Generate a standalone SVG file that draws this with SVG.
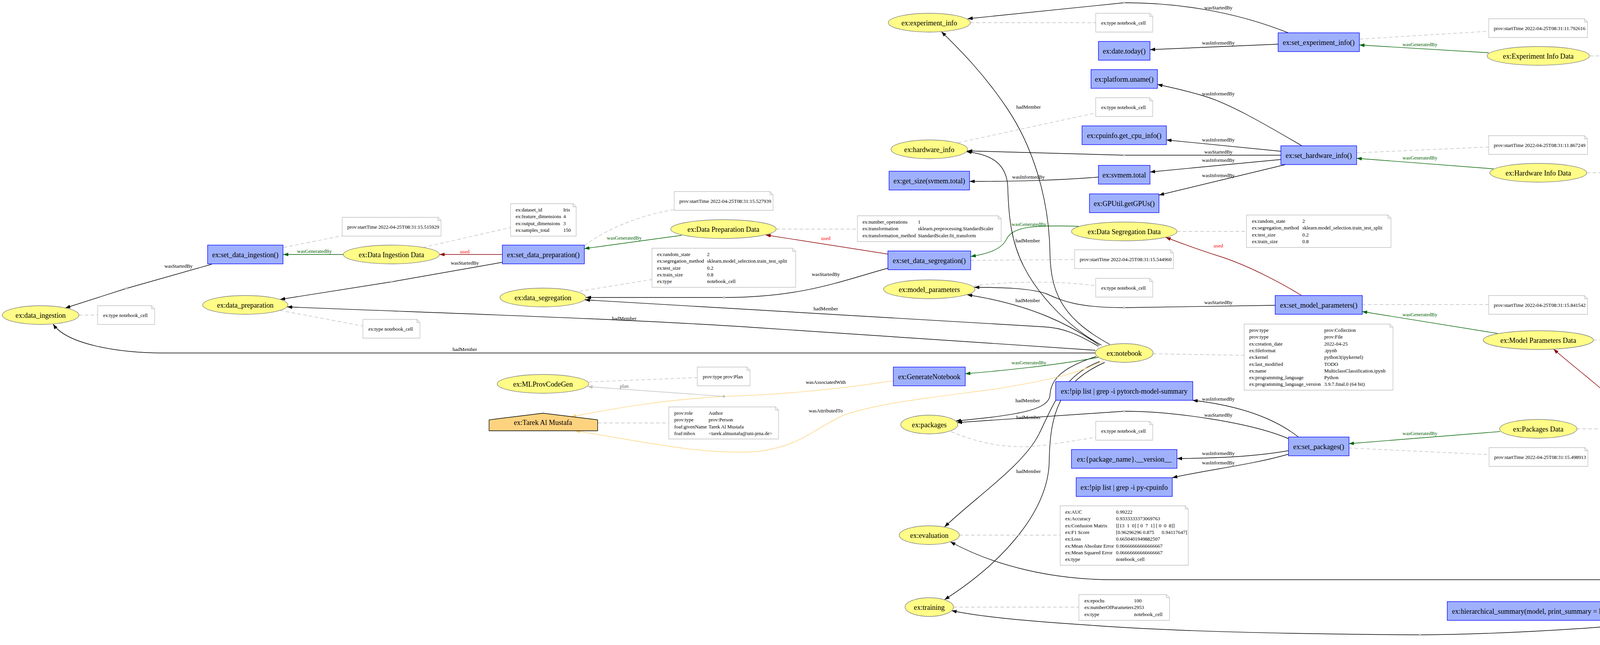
<svg xmlns="http://www.w3.org/2000/svg" width="6183" height="1650" viewBox="0 0 6183 1650">
<style>
text{font-family:"Liberation Serif","Times New Roman",serif;fill:#000}
.n{font-size:18.2px;text-anchor:middle}
.t{font-size:12.9px}
.l{font-size:13px;text-anchor:middle}
.lg{fill:#006400}.lr{fill:#ff0000}.lp{fill:#696969}
.ent{fill:#FFFC87;stroke:#808080;stroke-width:1.33}
.act{fill:#9FB1FC;stroke:#0000FF;stroke-width:1.33}
.agt{fill:#FED37F;stroke:#000;stroke-width:1.33}
.note{fill:#fff;stroke:#c0c0c0;stroke-width:1.33}
.fold{fill:none;stroke:#c0c0c0;stroke-width:1.33}
.e{fill:none;stroke:#000;stroke-width:1.4}
.eg{stroke:#006400}.eu{stroke:#8B0000}.eo{stroke:#FED37F}.ep{stroke:#c0c0c0}
.ad{fill:none;stroke:#c0c0c0;stroke-width:1.4;stroke-dasharray:9 6}
.dot{fill:#c0c0c0}
</style>
<defs>
<marker id="ab" markerUnits="userSpaceOnUse" markerWidth="14" markerHeight="10" refX="13" refY="5" orient="auto"><path d="M0,0.4 L13,5 L0,9.6 z" fill="#000"/></marker>
<marker id="ag" markerUnits="userSpaceOnUse" markerWidth="14" markerHeight="10" refX="13" refY="5" orient="auto"><path d="M0,0.4 L13,5 L0,9.6 z" fill="#006400"/></marker>
<marker id="ar" markerUnits="userSpaceOnUse" markerWidth="14" markerHeight="10" refX="13" refY="5" orient="auto"><path d="M0,0.4 L13,5 L0,9.6 z" fill="#8B0000"/></marker>
<marker id="ao" markerUnits="userSpaceOnUse" markerWidth="14" markerHeight="10" refX="13" refY="5" orient="auto"><path d="M0,0.4 L13,5 L0,9.6 z" fill="#FED37F"/></marker>
<marker id="ap" markerUnits="userSpaceOnUse" markerWidth="14" markerHeight="10" refX="13" refY="5" orient="auto"><path d="M0,0.4 L13,5 L0,9.6 z" fill="#c0c0c0"/></marker>
</defs>
<rect width="6183" height="1650" fill="#fff"/>
<g id="connectors">
<path class="e eg" d="M879,651 L725,651" marker-end="url(#ag)"/>
<text class="l lg" x="805" y="647">wasGeneratedBy</text>
<path class="e eu" d="M1286,651 L1125,651" marker-end="url(#ar)"/>
<text class="l lr" x="1190" y="648">used</text>
<path class="e" d="M542,676 L323,738 L167,788" marker-end="url(#ab)"/>
<text class="l" x="457" y="685">wasStartedBy</text>
<path class="ad" d="M726,633 L876,603"/>
<path class="ad" d="M202,806 L250,806"/>
<path class="ad" d="M1083,633 L1307,582"/>
<path class="e" d="M1286,671 L1002,721 L717,766" marker-end="url(#ab)"/>
<text class="l" x="1190" y="677">wasStartedBy</text>
<path class="e eg" d="M1745,602 L1496,636" marker-end="url(#ag)"/>
<text class="l lg" x="1598" y="613">wasGeneratedBy</text>
<path class="ad" d="M1496,628 Q1590,560 1726,536"/>
<path class="ad" d="M717,794 L929,834"/>
<path class="ad" d="M1987,586 L2195,586"/>
<path class="e eu" d="M2273,650 L1960,601" marker-end="url(#ar)"/>
<text class="l lr" x="2114" y="614">used</text>
<path class="e" d="M2273,686 C2150,720 2050,761 1853,761 L1500,761" marker-end="url(#ab)"/>
<text class="l" x="2114" y="706">wasStartedBy</text>
<path class="ad" d="M1484,745 L1669,715"/>
<path class="e eg" d="M2762,579 C2640,575 2590,580 2575,615 C2560,640 2525,650 2485,656" marker-end="url(#ag)"/>
<text class="l lg" x="2634" y="578">wasGeneratedBy</text>
<path class="ad" d="M2485,666 L2751,664"/>
<path class="ad" d="M3013,592 L3191,592"/>
<path class="e eu" d="M3332,756 C3290,730 3200,680 3120,655 C3060,636 3010,617 2984,607" marker-end="url(#ar)"/>
<text class="l lr" x="3119" y="633">used</text>
<path class="e" d="M3298,84 C3150,25 3000,7 2878,7 L2477,48" marker-end="url(#ab)"/>
<text class="l" x="3119" y="24">wasStartedBy</text>
<path class="e" d="M3272,113 L2944,127" marker-end="url(#ab)"/>
<text class="l" x="3119" y="114">wasInformedBy</text>
<path class="ad" d="M2484,58 L2805,58"/>
<path class="ad" d="M3481,100 L3811,80"/>
<path class="e eg" d="M3811,135 L3480,115" marker-end="url(#ag)"/>
<text class="l lg" x="3635" y="118">wasGeneratedBy</text>
<path class="ad" d="M4070,143 L4385,143"/>
<path class="e" d="M3333,373 C3250,325 3150,265 3080,245 C3030,230 2990,222 2963,216" marker-end="url(#ab)"/>
<text class="l" x="3119" y="244">wasInformedBy</text>
<path class="e" d="M3279,387 L2986,358" marker-end="url(#ab)"/>
<text class="l" x="3119" y="362">wasInformedBy</text>
<path class="e" d="M3279,397 L2878,397 L2476,386" marker-end="url(#ab)"/>
<text class="l" x="3119" y="393">wasStartedBy</text>
<path class="e" d="M3279,408 L2944,440" marker-end="url(#ab)"/>
<text class="l" x="3119" y="414">wasInformedBy</text>
<path class="e" d="M3291,421 L2967,499" marker-end="url(#ab)"/>
<text class="l" x="3119" y="453">wasInformedBy</text>
<path class="e" d="M2812,453 C2700,462 2600,464 2482,464" marker-end="url(#ab)"/>
<text class="l" x="2633" y="457">wasInformedBy</text>
<path class="ad" d="M2453,365 L2805,289"/>
<path class="ad" d="M3473,391 L3811,376"/>
<path class="e eg" d="M3824,432 L3473,405" marker-end="url(#ag)"/>
<text class="l lg" x="3635" y="408">wasGeneratedBy</text>
<path class="ad" d="M4062,442 L4305,442"/>
<path class="e" d="M3264,781 L2878,787 C2760,787 2720,770 2680,752 C2640,737 2560,735 2494,735" marker-end="url(#ab)"/>
<text class="l" x="3119" y="778">wasStartedBy</text>
<path class="ad" d="M2493,731 C2560,722 2700,716 2805,731"/>
<path class="ad" d="M3487,779 L3811,779"/>
<path class="e eg" d="M3834,853 L3487,797" marker-end="url(#ag)"/>
<text class="l lg" x="3635" y="809">wasGeneratedBy</text>
<path class="ad" d="M4079,870 L4320,870"/>
<path class="e" d="M2841,881 C2730,820 2690,760 2688,650 C2686,500 2640,370 2580,280 C2520,190 2460,130 2410,81" marker-end="url(#ab)"/>
<text class="l" x="2633" y="278">hadMember</text>
<path class="e" d="M2820,883 C2740,840 2660,760 2620,680 C2590,620 2582,560 2580,480 C2578,420 2540,395 2474,388" marker-end="url(#ab)"/>
<text class="l" x="2631" y="620">hadMember</text>
<path class="e" d="M2815,884 C2740,830 2640,780 2476,754" marker-end="url(#ab)"/>
<text class="l" x="2631" y="773">hadMember</text>
<path class="e" d="M2812,886 C2760,855 2720,838 2671,836 L1497,767" marker-end="url(#ab)"/>
<text class="l" x="2114" y="794">hadMember</text>
<path class="e" d="M2804,896 L1950,839 C1600,815 1100,800 735,785" marker-end="url(#ab)"/>
<text class="l" x="1598" y="819">hadMember</text>
<path class="e" d="M2804,903 L420,903 C300,903 170,880 136,829" marker-end="url(#ab)"/>
<text class="l" x="1190" y="898">hadMember</text>
<path class="e" d="M2806,912 C2720,940 2690,970 2688,1010 C2686,1050 2600,1062 2447,1077" marker-end="url(#ab)"/>
<text class="l" x="2631" y="1029">hadMember</text>
<path class="e" d="M2815,925 C2720,960 2695,1040 2660,1110 C2620,1190 2500,1270 2418,1348" marker-end="url(#ab)"/>
<text class="l" x="2633" y="1072">hadMember</text>
<path class="e" d="M2828,927 C2710,980 2688,1060 2686,1180 C2684,1300 2580,1430 2418,1534" marker-end="url(#ab)"/>
<text class="l" x="2633" y="1210">hadMember</text>
<path class="e eg" d="M2812,914 C2700,935 2550,950 2471,956" marker-end="url(#ag)"/>
<text class="l lg" x="2634" y="932">wasGeneratedBy</text>
<path class="e eo" d="M2287,974 C2150,995 2000,1010 1853,1014"/>
<text class="l" x="2114" y="982">wasAssociatedWith</text>
<path class="e eo" d="M1853,1014 C1700,1023 1600,1040 1462,1066" marker-end="url(#ao)"/>
<path class="e ep" d="M1853,1014 L1504,989" marker-end="url(#ap)"/>
<text class="l lp" x="1598" y="992">plan</text>
<path class="e eo" d="M2825,923 C2760,955 2700,970 2550,995 C2400,1015 2250,1030 2157,1063 C2080,1100 2050,1140 1940,1155 C1800,1165 1650,1130 1472,1102" marker-end="url(#ao)"/>
<text class="l" x="2114" y="1055">wasAttributedTo</text>
<path class="ad" d="M2952,905 L3185,909"/>
<path class="ad" d="M1507,977 L1785,966"/>
<path class="ad" d="M1530,1082 L1712,1082"/>
<path class="e" d="M3298,1122 C3200,1080 3000,1052 2878,1052 L2450,1081" marker-end="url(#ab)"/>
<text class="l" x="3119" y="1066">wasStartedBy</text>
<path class="e" d="M3324,1118 C3250,1060 3150,1035 3053,1024" marker-end="url(#ab)"/>
<text class="l" x="3119" y="1025">wasInformedBy</text>
<path class="e" d="M3298,1153 C3200,1170 3100,1172 3013,1173" marker-end="url(#ab)"/>
<text class="l" x="3119" y="1164">wasInformedBy</text>
<path class="e" d="M3298,1162 C3200,1190 3100,1200 3001,1222" marker-end="url(#ab)"/>
<text class="l" x="3119" y="1188">wasInformedBy</text>
<path class="ad" d="M2435,1104 C2520,1140 2600,1150 2680,1138 C2740,1130 2780,1122 2805,1119"/>
<path class="ad" d="M3453,1146 L3812,1163"/>
<path class="e eg" d="M3840,1104 L3453,1135" marker-end="url(#ag)"/>
<text class="l lg" x="3635" y="1113">wasGeneratedBy</text>
<path class="ad" d="M4036,1097 L4332,1097"/>
<path class="e" d="M4439,1572 C4200,1600 3900,1622 3635,1624 C3300,1622 3000,1615 2800,1600 C2650,1590 2520,1580 2436,1562" marker-end="url(#ab)"/>
<text class="l" x="4237" y="1585">wasStartedBy</text>
<path class="e" d="M4439,1563 L4171,1563" marker-end="url(#ab)"/>
<text class="l" x="4236" y="1560">wasInformedBy</text>
<path class="e eg" d="M4887,1552 L4579,1561" marker-end="url(#ag)"/>
<text class="l lg" x="4782" y="1549">wasGeneratedBy</text>
<path class="ad" d="M4579,1572 L4852,1605"/>
<path class="e eu" d="M4494,1539 C4420,1300 4300,1150 4170,1060 C4100,990 4030,940 3977,893" marker-end="url(#ar)"/>
<text class="l lr" x="4237" y="1093">used</text>
<path class="ad" d="M5071,1556 L5228,1566"/>
<path class="e" d="M5238,1492 L4784,1483 L2850,1483 C2700,1483 2550,1450 2433,1386" marker-end="url(#ab)"/>
<text class="l" x="5167" y="1485">wasStartedBy</text>
<path class="e eu" d="M5246,1517 C5180,1535 5120,1540 5071,1543" marker-end="url(#ar)"/>
<text class="l lr" x="5167" y="1524">used</text>
<path class="e eg" d="M5579,1519 L5399,1501" marker-end="url(#ag)"/>
<text class="l lg" x="5477" y="1501">wasGeneratedBy</text>
<path class="ad" d="M5399,1484 L5548,1470"/>
<path class="ad" d="M5777,1529 L5849,1529"/>
<path class="ad" d="M2456,1369 L2714,1369"/>
<path class="ad" d="M2441,1553 L2762,1553"/>
<circle class="dot" cx="323" cy="738" r="3"/>
<circle class="dot" cx="1002" cy="721" r="3"/>
<circle class="dot" cx="1853" cy="761" r="3"/>
<circle class="dot" cx="2878" cy="7" r="3"/>
<circle class="dot" cx="2878" cy="397" r="3"/>
<circle class="dot" cx="2878" cy="787" r="3"/>
<circle class="dot" cx="2878" cy="1052" r="3"/>
<circle class="dot" cx="4784" cy="1483" r="3"/>
<circle class="dot" cx="3635" cy="1624" r="3"/>
<circle class="dot" cx="1853" cy="1014" r="3"/>
</g>
<g id="data_ingestion"><ellipse class="ent" cx="104" cy="806" rx="98" ry="24"/><text class="n" x="104" y="812.5">ex:data_ingestion</text></g>
<g id="data_ingestion_data"><ellipse class="ent" cx="1002" cy="651" rx="123" ry="24"/><text class="n" x="1002" y="657.5">ex:Data Ingestion Data</text></g>
<g id="data_preparation"><ellipse class="ent" cx="628" cy="780" rx="109" ry="24"/><text class="n" x="628" y="786.5">ex:data_preparation</text></g>
<g id="data_preparation_data"><ellipse class="ent" cx="1852" cy="586" rx="135" ry="24"/><text class="n" x="1852" y="592.5">ex:Data Preparation Data</text></g>
<g id="data_segregation"><ellipse class="ent" cx="1390" cy="761" rx="110" ry="24"/><text class="n" x="1390" y="767.5">ex:data_segregation</text></g>
<g id="data_segregation_data"><ellipse class="ent" cx="2878" cy="592" rx="135" ry="24"/><text class="n" x="2878" y="598.5">ex:Data Segregation Data</text></g>
<g id="experiment_info"><ellipse class="ent" cx="2379" cy="58" rx="105" ry="24"/><text class="n" x="2379" y="64.5">ex:experiment_info</text></g>
<g id="hardware_info"><ellipse class="ent" cx="2379" cy="382" rx="98" ry="24"/><text class="n" x="2379" y="388.5">ex:hardware_info</text></g>
<g id="experiment_info_data"><ellipse class="ent" cx="3938" cy="143" rx="131" ry="24"/><text class="n" x="3938" y="149.5">ex:Experiment Info Data</text></g>
<g id="hardware_info_data"><ellipse class="ent" cx="3938" cy="442" rx="124" ry="24"/><text class="n" x="3938" y="448.5">ex:Hardware Info Data</text></g>
<g id="model_parameters"><ellipse class="ent" cx="2379" cy="740" rx="117" ry="24"/><text class="n" x="2379" y="746.5">ex:model_parameters</text></g>
<g id="model_parameters_data"><ellipse class="ent" cx="3938" cy="870" rx="141" ry="24"/><text class="n" x="3938" y="876.5">ex:Model Parameters Data</text></g>
<g id="notebook"><ellipse class="ent" cx="2878" cy="903" rx="74" ry="24"/><text class="n" x="2878" y="909.5">ex:notebook</text></g>
<g id="mlprovcodegen"><ellipse class="ent" cx="1390" cy="982" rx="117" ry="24"/><text class="n" x="1390" y="988.5">ex:MLProvCodeGen</text></g>
<g id="packages"><ellipse class="ent" cx="2379" cy="1086" rx="73" ry="24"/><text class="n" x="2379" y="1092.5">ex:packages</text></g>
<g id="packages_data"><ellipse class="ent" cx="3938" cy="1097" rx="99" ry="24"/><text class="n" x="3938" y="1103.5">ex:Packages Data</text></g>
<g id="evaluation"><ellipse class="ent" cx="2379" cy="1369" rx="77" ry="24"/><text class="n" x="2379" y="1375.5">ex:evaluation</text></g>
<g id="training"><ellipse class="ent" cx="2379" cy="1553" rx="62" ry="24"/><text class="n" x="2379" y="1559.5">ex:training</text></g>
<g id="training_data"><ellipse class="ent" cx="4979" cy="1549" rx="92" ry="24"/><text class="n" x="4979" y="1555.5">ex:Training Data</text></g>
<g id="evaluation_data"><ellipse class="ent" cx="5674" cy="1529" rx="103" ry="24"/><text class="n" x="5674" y="1535.5">ex:Evaluation Data</text></g>
<g id="tarek"><polygon class="agt" points="1252,1102 1530,1102 1530,1074 1390,1057 1252,1074"/><text class="n" x="1390" y="1087">ex:Tarek Al Mustafa</text></g>
<g id="set_data_ingestion"><rect class="act" x="531.5" y="627" width="193" height="48"/><text class="n" x="628" y="657.5">ex:set_data_ingestion()</text></g>
<g id="set_data_preparation"><rect class="act" x="1286" y="627" width="210" height="48"/><text class="n" x="1391" y="657.5">ex:set_data_preparation()</text></g>
<g id="set_data_segregation"><rect class="act" x="2273" y="642" width="212" height="48"/><text class="n" x="2379" y="672.5">ex:set_data_segregation()</text></g>
<g id="set_experiment_info"><rect class="act" x="3272" y="84" width="208" height="48"/><text class="n" x="3376" y="114.5">ex:set_experiment_info()</text></g>
<g id="set_hardware_info"><rect class="act" x="3279" y="373" width="194" height="48"/><text class="n" x="3376" y="403.5">ex:set_hardware_info()</text></g>
<g id="set_model_parameters"><rect class="act" x="3264.5" y="756" width="223" height="48"/><text class="n" x="3376" y="786.5">ex:set_model_parameters()</text></g>
<g id="set_packages"><rect class="act" x="3298.5" y="1118" width="155" height="48"/><text class="n" x="3376" y="1148.5">ex:set_packages()</text></g>
<g id="set_training"><rect class="act" x="4439" y="1539" width="140" height="48"/><text class="n" x="4509" y="1569.5">ex:set_training()</text></g>
<g id="set_evaluation"><rect class="act" x="5238" y="1469" width="161" height="48"/><text class="n" x="5318.5" y="1499.5">ex:set_evaluation()</text></g>
<g id="date_today"><rect class="act" x="2812" y="106" width="132" height="48"/><text class="n" x="2878" y="136.5">ex:date.today()</text></g>
<g id="platform_uname"><rect class="act" x="2793" y="178" width="170" height="48"/><text class="n" x="2878" y="208.5">ex:platform.uname()</text></g>
<g id="cpuinfo"><rect class="act" x="2770" y="322" width="216" height="48"/><text class="n" x="2878" y="352.5">ex:cpuinfo.get_cpu_info()</text></g>
<g id="svmem_total"><rect class="act" x="2812" y="423" width="132" height="48"/><text class="n" x="2878" y="453.5">ex:svmem.total</text></g>
<g id="get_size"><rect class="act" x="2276" y="438" width="206" height="48"/><text class="n" x="2379" y="468.5">ex:get_size(svmem.total)</text></g>
<g id="gputil"><rect class="act" x="2789" y="496" width="178" height="48"/><text class="n" x="2878" y="526.5">ex:GPUtil.getGPUs()</text></g>
<g id="generate_notebook"><rect class="act" x="2287" y="939" width="184" height="48"/><text class="n" x="2379" y="969.5">ex:GenerateNotebook</text></g>
<g id="pip_pytorch"><rect class="act" x="2702.5" y="976" width="351" height="48"/><text class="n" x="2878" y="1006.5">ex:!pip list | grep -i pytorch-model-summary</text></g>
<g id="package_version"><rect class="act" x="2743" y="1150" width="270" height="48"/><text class="n" x="2878" y="1180.5">ex:{package_name}.__version__</text></g>
<g id="pip_cpuinfo"><rect class="act" x="2755" y="1222" width="246" height="48"/><text class="n" x="2878" y="1252.5">ex:!pip list | grep -i py-cpuinfo</text></g>
<g id="hierarchical_summary"><rect class="act" x="3705" y="1539" width="466" height="48"/><text class="n" x="3938" y="1569.5">ex:hierarchical_summary(model, print_summary = False)[1]</text></g>
<g id="ann_data_ingestion"><path class="note" d="M250,782 h138 l8,8 v40 h-146 z"/><path class="fold" d="M388,782 v8 h8"/><text class="t" x="264" y="810.5">ex:type notebook_cell</text></g>
<g id="ann_set_data_ingestion"><path class="note" d="M876,556 h245 l8,8 v40 h-253 z"/><path class="fold" d="M1121,556 v8 h8"/><text class="t" x="889" y="584.5">prov:startTime 2022-04-25T08:31:15.515929</text></g>
<g id="ann_data_ingestion_data"><path class="note" d="M1307,521 h160 l8,8 v75 h-168 z"/><path class="fold" d="M1467,521 v8 h8"/>
<text class="t" y="541"><tspan x="1320">ex:dataset_id</tspan><tspan x="1442">Iris</tspan></text>
<text class="t" y="558.3"><tspan x="1320">ex:feature_dimensions</tspan><tspan x="1442">4</tspan></text>
<text class="t" y="575.6"><tspan x="1320">ex:output_dimensions</tspan><tspan x="1442">3</tspan></text>
<text class="t" y="592.9"><tspan x="1320">ex:samples_total</tspan><tspan x="1442">150</tspan></text></g>
<g id="ann_set_data_preparation"><path class="note" d="M1726,490 h245 l8,8 v40 h-253 z"/><path class="fold" d="M1971,490 v8 h8"/><text class="t" x="1739" y="518.5">prov:startTime 2022-04-25T08:31:15.527939</text></g>
<g id="ann_data_preparation"><path class="note" d="M929,817 h138 l8,8 v40 h-146 z"/><path class="fold" d="M1067,817 v8 h8"/><text class="t" x="943" y="845.5">ex:type notebook_cell</text></g>
<g id="ann_data_segregation"><path class="note" d="M1669,635 h360 l8,8 v92 h-368 z"/><path class="fold" d="M2029,635 v8 h8"/>
<text class="t" y="655"><tspan x="1682">ex:random_state</tspan><tspan x="1810">2</tspan></text>
<text class="t" y="672.3"><tspan x="1682">ex:segregation_method</tspan><tspan x="1810">sklearn.model_selection.train_test_split</tspan></text>
<text class="t" y="689.6"><tspan x="1682">ex:test_size</tspan><tspan x="1810">0.2</tspan></text>
<text class="t" y="706.9"><tspan x="1682">ex:train_size</tspan><tspan x="1810">0.8</tspan></text>
<text class="t" y="724.2"><tspan x="1682">ex:type</tspan><tspan x="1810">notebook_cell</tspan></text></g>
<g id="ann_data_preparation_data"><path class="note" d="M2195,552 h360 l8,8 v58 h-368 z"/><path class="fold" d="M2555,552 v8 h8"/>
<text class="t" y="572"><tspan x="2208">ex:number_operations</tspan><tspan x="2350">1</tspan></text>
<text class="t" y="589.3"><tspan x="2208">ex:transformation</tspan><tspan x="2350">sklearn.preprocessing.StandardScaler</tspan></text>
<text class="t" y="606.6"><tspan x="2208">ex:transformation_method</tspan><tspan x="2350">StandardScaler.fit_transform</tspan></text></g>
<g id="ann_set_data_segregation"><path class="note" d="M2751,639 h245 l8,8 v40 h-253 z"/><path class="fold" d="M2996,639 v8 h8"/><text class="t" x="2764" y="667.5">prov:startTime 2022-04-25T08:31:15.544960</text></g>
<g id="ann_data_segregation_data"><path class="note" d="M3191,550 h362 l8,8 v75 h-370 z"/><path class="fold" d="M3553,550 v8 h8"/>
<text class="t" y="570"><tspan x="3205">ex:random_state</tspan><tspan x="3334">2</tspan></text>
<text class="t" y="587.3"><tspan x="3205">ex:segregation_method</tspan><tspan x="3334">sklearn.model_selection.train_test_split</tspan></text>
<text class="t" y="604.6"><tspan x="3205">ex:test_size</tspan><tspan x="3334">0.2</tspan></text>
<text class="t" y="621.9"><tspan x="3205">ex:train_size</tspan><tspan x="3334">0.8</tspan></text></g>
<g id="ann_experiment_info"><path class="note" d="M2805,34 h138 l8,8 v40 h-146 z"/><path class="fold" d="M2943,34 v8 h8"/><text class="t" x="2819" y="62.5">ex:type notebook_cell</text></g>
<g id="ann_hardware_info"><path class="note" d="M2805,250 h138 l8,8 v40 h-146 z"/><path class="fold" d="M2943,250 v8 h8"/><text class="t" x="2819" y="278.5">ex:type notebook_cell</text></g>
<g id="ann_set_experiment_info"><path class="note" d="M3811,48 h245 l8,8 v40 h-253 z"/><path class="fold" d="M4056,48 v8 h8"/><text class="t" x="3824" y="76.5">prov:startTime 2022-04-25T08:31:11.792616</text></g>
<g id="ann_experiment_info_data"><path class="note" d="M4385,110 h242 l8,8 v59 h-250 z"/><path class="fold" d="M4627,110 v8 h8"/>
<text class="t" y="130"><tspan x="4399">ex:creation_date</tspan><tspan x="4489">2022-04-25</tspan></text>
<text class="t" y="147.3"><tspan x="4399">ex:task_type</tspan><tspan x="4489">MulticlassClassification</tspan></text>
<text class="t" y="164.6"><tspan x="4399">ex:title</tspan><tspan x="4489">Multiclass Classification</tspan></text></g>
<g id="ann_set_hardware_info"><path class="note" d="M3811,347 h245 l8,8 v40 h-253 z"/><path class="fold" d="M4056,347 v8 h8"/><text class="t" x="3824" y="375.5">prov:startTime 2022-04-25T08:31:11.867249</text></g>
<g id="ann_hardware_info_data"><path class="note" d="M4305,400 h401 l8,8 v75 h-409 z"/><path class="fold" d="M4706,400 v8 h8"/>
<text class="t" y="420"><tspan x="4319">ex:CPU</tspan><tspan x="4431">AMD Ryzen 7 3700X 8-Core Processor</tspan></text>
<text class="t" y="437.3"><tspan x="4319">ex:GPUs</tspan><tspan x="4431">[(0, 'NVIDIA GeForce GTX 1060 6GB')]</tspan></text>
<text class="t" y="454.6"><tspan x="4319">ex:Operating System</tspan><tspan x="4431">Windows 10 Version: 10.0.19044 Machine: AMD64</tspan></text>
<text class="t" y="471.9"><tspan x="4319">ex:RAM</tspan><tspan x="4431">15.95GB</tspan></text></g>
<g id="ann_model_parameters"><path class="note" d="M2805,712 h138 l8,8 v40 h-146 z"/><path class="fold" d="M2943,712 v8 h8"/><text class="t" x="2819" y="740.5">ex:type notebook_cell</text></g>
<g id="ann_set_model_parameters"><path class="note" d="M3811,756 h245 l8,8 v40 h-253 z"/><path class="fold" d="M4056,756 v8 h8"/><text class="t" x="3824" y="784.5">prov:startTime 2022-04-25T08:31:15.841542</text></g>
<g id="ann_model_parameters_data"><path class="note" d="M4320,794 h371 l8,8 v144 h-379 z"/><path class="fold" d="M4691,794 v8 h8"/>
<text class="t" y="814"><tspan x="4334">ex:activation_function</tspan><tspan x="4520">F.softmax(self.layer3(x), dim=1)</tspan></text>
<text class="t" y="831.3"><tspan x="4334">ex:gpu_enable</tspan><tspan x="4520">1</tspan></text>
<text class="t" y="848.6"><tspan x="4334">ex:loss_function</tspan><tspan x="4520">nn.CrossEntropyLoss()</tspan></text>
<text class="t" y="865.9"><tspan x="4334">ex:modelParameters</tspan><tspan x="4520">str(model)TODO</tspan></text>
<text class="t" y="883.2"><tspan x="4334">ex:neuron_number</tspan><tspan x="4520">50</tspan></text>
<text class="t" y="900.5"><tspan x="4334">ex:optimizer</tspan><tspan x="4520">torch.optim.Adam(</tspan></text>
<text class="t" y="917.8"><tspan x="4334">ex:optimizer_default_learning_rate</tspan><tspan x="4520">1</tspan></text>
<text class="t" y="935.1"><tspan x="4334">ex:optimizer_learning_rate</tspan><tspan x="4520">None</tspan></text></g>
<g id="ann_notebook"><path class="note" d="M3185,829 h373 l8,8 v161 h-381 z"/><path class="fold" d="M3558,829 v8 h8"/>
<text class="t" y="849"><tspan x="3198">prov:type</tspan><tspan x="3390">prov:Collection</tspan></text>
<text class="t" y="866.3"><tspan x="3198">prov:type</tspan><tspan x="3390">prov:File</tspan></text>
<text class="t" y="883.6"><tspan x="3198">ex:creation_date</tspan><tspan x="3390">2022-04-25</tspan></text>
<text class="t" y="900.9"><tspan x="3198">ex:fileformat</tspan><tspan x="3390">.ipynb</tspan></text>
<text class="t" y="918.2"><tspan x="3198">ex:kernel</tspan><tspan x="3390">python3(ipykernel)</tspan></text>
<text class="t" y="935.5"><tspan x="3198">ex:last_modified</tspan><tspan x="3390">TODO</tspan></text>
<text class="t" y="952.8"><tspan x="3198">ex:name</tspan><tspan x="3390">MulticlassClassification.ipynb</tspan></text>
<text class="t" y="970.1"><tspan x="3198">ex:programming_language</tspan><tspan x="3390">Python</tspan></text>
<text class="t" y="987.4"><tspan x="3198">ex:programming_language_version</tspan><tspan x="3390">3.9.7.final.0 (64 bit)</tspan></text></g>
<g id="ann_mlprovcodegen"><path class="note" d="M1785,939 h127 l8,8 v40 h-135 z"/><path class="fold" d="M1912,939 v8 h8"/><text class="t" x="1799" y="967.5">prov:type prov:Plan</text></g>
<g id="ann_tarek"><path class="note" d="M1712,1041 h273 l8,8 v74 h-281 z"/><path class="fold" d="M1985,1041 v8 h8"/>
<text class="t" y="1061"><tspan x="1726">prov:role</tspan><tspan x="1814">Author</tspan></text>
<text class="t" y="1078.3"><tspan x="1726">prov:type</tspan><tspan x="1814">prov:Person</tspan></text>
<text class="t" y="1095.6"><tspan x="1726">foaf:givenName</tspan><tspan x="1814">Tarek Al Mustafa</tspan></text>
<text class="t" y="1112.9"><tspan x="1726">foaf:mbox</tspan><tspan x="1814">&lt;tarek.almustafa@uni-jena.de&gt;</tspan></text></g>
<g id="ann_packages"><path class="note" d="M2805,1078 h138 l8,8 v40 h-146 z"/><path class="fold" d="M2943,1078 v8 h8"/><text class="t" x="2819" y="1106.5">ex:type notebook_cell</text></g>
<g id="ann_set_packages"><path class="note" d="M3812,1145 h245 l8,8 v40 h-253 z"/><path class="fold" d="M4057,1145 v8 h8"/><text class="t" x="3825" y="1173.5">prov:startTime 2022-04-25T08:31:15.498913</text></g>
<g id="ann_packages_data"><path class="note" d="M4332,978 h347 l8,8 v230 h-355 z"/><path class="fold" d="M4679,978 v8 h8"/>
<text class="t" y="998"><tspan x="4345">ex:gputil</tspan><tspan x="4492">1.4.0</tspan></text>
<text class="t" y="1015.3"><tspan x="4345">ex:ipython</tspan><tspan x="4492">7.31.1</tspan></text>
<text class="t" y="1032.6"><tspan x="4345">ex:ipywidgets</tspan><tspan x="4492">7.6.5</tspan></text>
<text class="t" y="1049.9"><tspan x="4345">ex:matplotlib</tspan><tspan x="4492">3.5.1</tspan></text>
<text class="t" y="1067.2"><tspan x="4345">ex:numpy</tspan><tspan x="4492">1.22.2</tspan></text>
<text class="t" y="1084.5"><tspan x="4345">ex:pandas</tspan><tspan x="4492">1.3.3</tspan></text>
<text class="t" y="1101.8"><tspan x="4345">ex:prov</tspan><tspan x="4492">2.0.0</tspan></text>
<text class="t" y="1119.1"><tspan x="4345">ex:psutil</tspan><tspan x="4492">5.9.0</tspan></text>
<text class="t" y="1136.4"><tspan x="4345">ex:py-cpuinfo</tspan><tspan x="4492">py-cpuinfo</tspan><tspan x="4611">8.0.0</tspan></text>
<text class="t" y="1153.7"><tspan x="4345">ex:pytorch-model-summary</tspan><tspan x="4492">pytorch-model-summary</tspan><tspan x="4649">0.1.2</tspan></text>
<text class="t" y="1171"><tspan x="4345">ex:sklearn</tspan><tspan x="4492">1.0.2</tspan></text>
<text class="t" y="1188.3"><tspan x="4345">ex:torch</tspan><tspan x="4492">1.10.2+cpu</tspan></text>
<text class="t" y="1205.6"><tspan x="4345">ex:tqdm</tspan><tspan x="4492">4.60.0</tspan></text></g>
<g id="ann_evaluation"><path class="note" d="M2714,1294 h320 l8,8 v144 h-328 z"/><path class="fold" d="M3034,1294 v8 h8"/>
<text class="t" y="1314"><tspan x="2727">ex:AUC</tspan><tspan x="2857">0.99222</tspan></text>
<text class="t" y="1331.3"><tspan x="2727">ex:Accuracy</tspan><tspan x="2857">0.9333333373069763</tspan></text>
<text class="t" y="1348.6" xml:space="preserve"><tspan x="2727">ex:Confusion Matrix</tspan><tspan x="2857">[[13  1  0] [ 0  7  1] [ 0  0  8]]</tspan></text>
<text class="t" y="1365.9" xml:space="preserve"><tspan x="2727">ex:F1 Score</tspan><tspan x="2857">[0.96296296 0.875      0.94117647]</tspan></text>
<text class="t" y="1383.2"><tspan x="2727">ex:Loss</tspan><tspan x="2857">0.6650401949882507</tspan></text>
<text class="t" y="1400.5"><tspan x="2727">ex:Mean Absolute Error</tspan><tspan x="2857">0.06666666666666667</tspan></text>
<text class="t" y="1417.8"><tspan x="2727">ex:Mean Squared Error</tspan><tspan x="2857">0.06666666666666667</tspan></text>
<text class="t" y="1435.1"><tspan x="2727">ex:type</tspan><tspan x="2857">notebook_cell</tspan></text></g>
<g id="ann_training"><path class="note" d="M2762,1521 h224 l8,8 v58 h-232 z"/><path class="fold" d="M2986,1521 v8 h8"/>
<text class="t" y="1541"><tspan x="2776">ex:epochs</tspan><tspan x="2903">100</tspan></text>
<text class="t" y="1558.3"><tspan x="2776">ex:numberOfParameters</tspan><tspan x="2903">2953</tspan></text>
<text class="t" y="1575.6"><tspan x="2776">ex:type</tspan><tspan x="2903">notebook_cell</tspan></text></g>
<g id="ann_set_training"><path class="note" d="M4852,1597 h246 l8,8 v40 h-254 z"/><path class="fold" d="M5098,1597 v8 h8"/><text class="t" x="4865" y="1625.5">prov:startTime 2022-04-25T08:31:15.998313</text></g>
<g id="ann_training_data"><path class="note" d="M5228,1549 h172 l8,8 v40 h-180 z"/><path class="fold" d="M5400,1549 v8 h8"/>
<text class="t" y="1569"><tspan x="5241">ex:epochs</tspan><tspan x="5368">100</tspan></text>
<text class="t" y="1586.3"><tspan x="5241">ex:numberOfParameters</tspan><tspan x="5368">2953</tspan></text></g>
<g id="ann_set_evaluation"><path class="note" d="M5548,1433 h244 l8,8 v40 h-252 z"/><path class="fold" d="M5792,1433 v8 h8"/><text class="t" x="5561" y="1461.5">prov:startTime 2022-04-25T08:31:16.229444</text></g>
<g id="ann_evaluation_data"><path class="note" d="M5849,1462 h320 l8,8 v126 h-328 z"/><path class="fold" d="M6169,1462 v8 h8"/>
<text class="t" y="1482"><tspan x="5863">ex:AUC</tspan><tspan x="5992">0.99222</tspan></text>
<text class="t" y="1499.3"><tspan x="5863">ex:Accuracy</tspan><tspan x="5992">0.9333333373069763</tspan></text>
<text class="t" y="1516.6" xml:space="preserve"><tspan x="5863">ex:Confusion Matrix</tspan><tspan x="5992">[[13  1  0] [ 0  7  1] [ 0  0  8]]</tspan></text>
<text class="t" y="1533.9" xml:space="preserve"><tspan x="5863">ex:F1 Score</tspan><tspan x="5992">[0.96296296 0.875      0.94117647]</tspan></text>
<text class="t" y="1551.2"><tspan x="5863">ex:Loss</tspan><tspan x="5992">0.6650401949882507</tspan></text>
<text class="t" y="1568.5"><tspan x="5863">ex:Mean Absolute Error</tspan><tspan x="5992">0.06666666666666667</tspan></text>
<text class="t" y="1585.8"><tspan x="5863">ex:Mean Squared Error</tspan><tspan x="5992">0.06666666666666667</tspan></text></g>
</svg>
